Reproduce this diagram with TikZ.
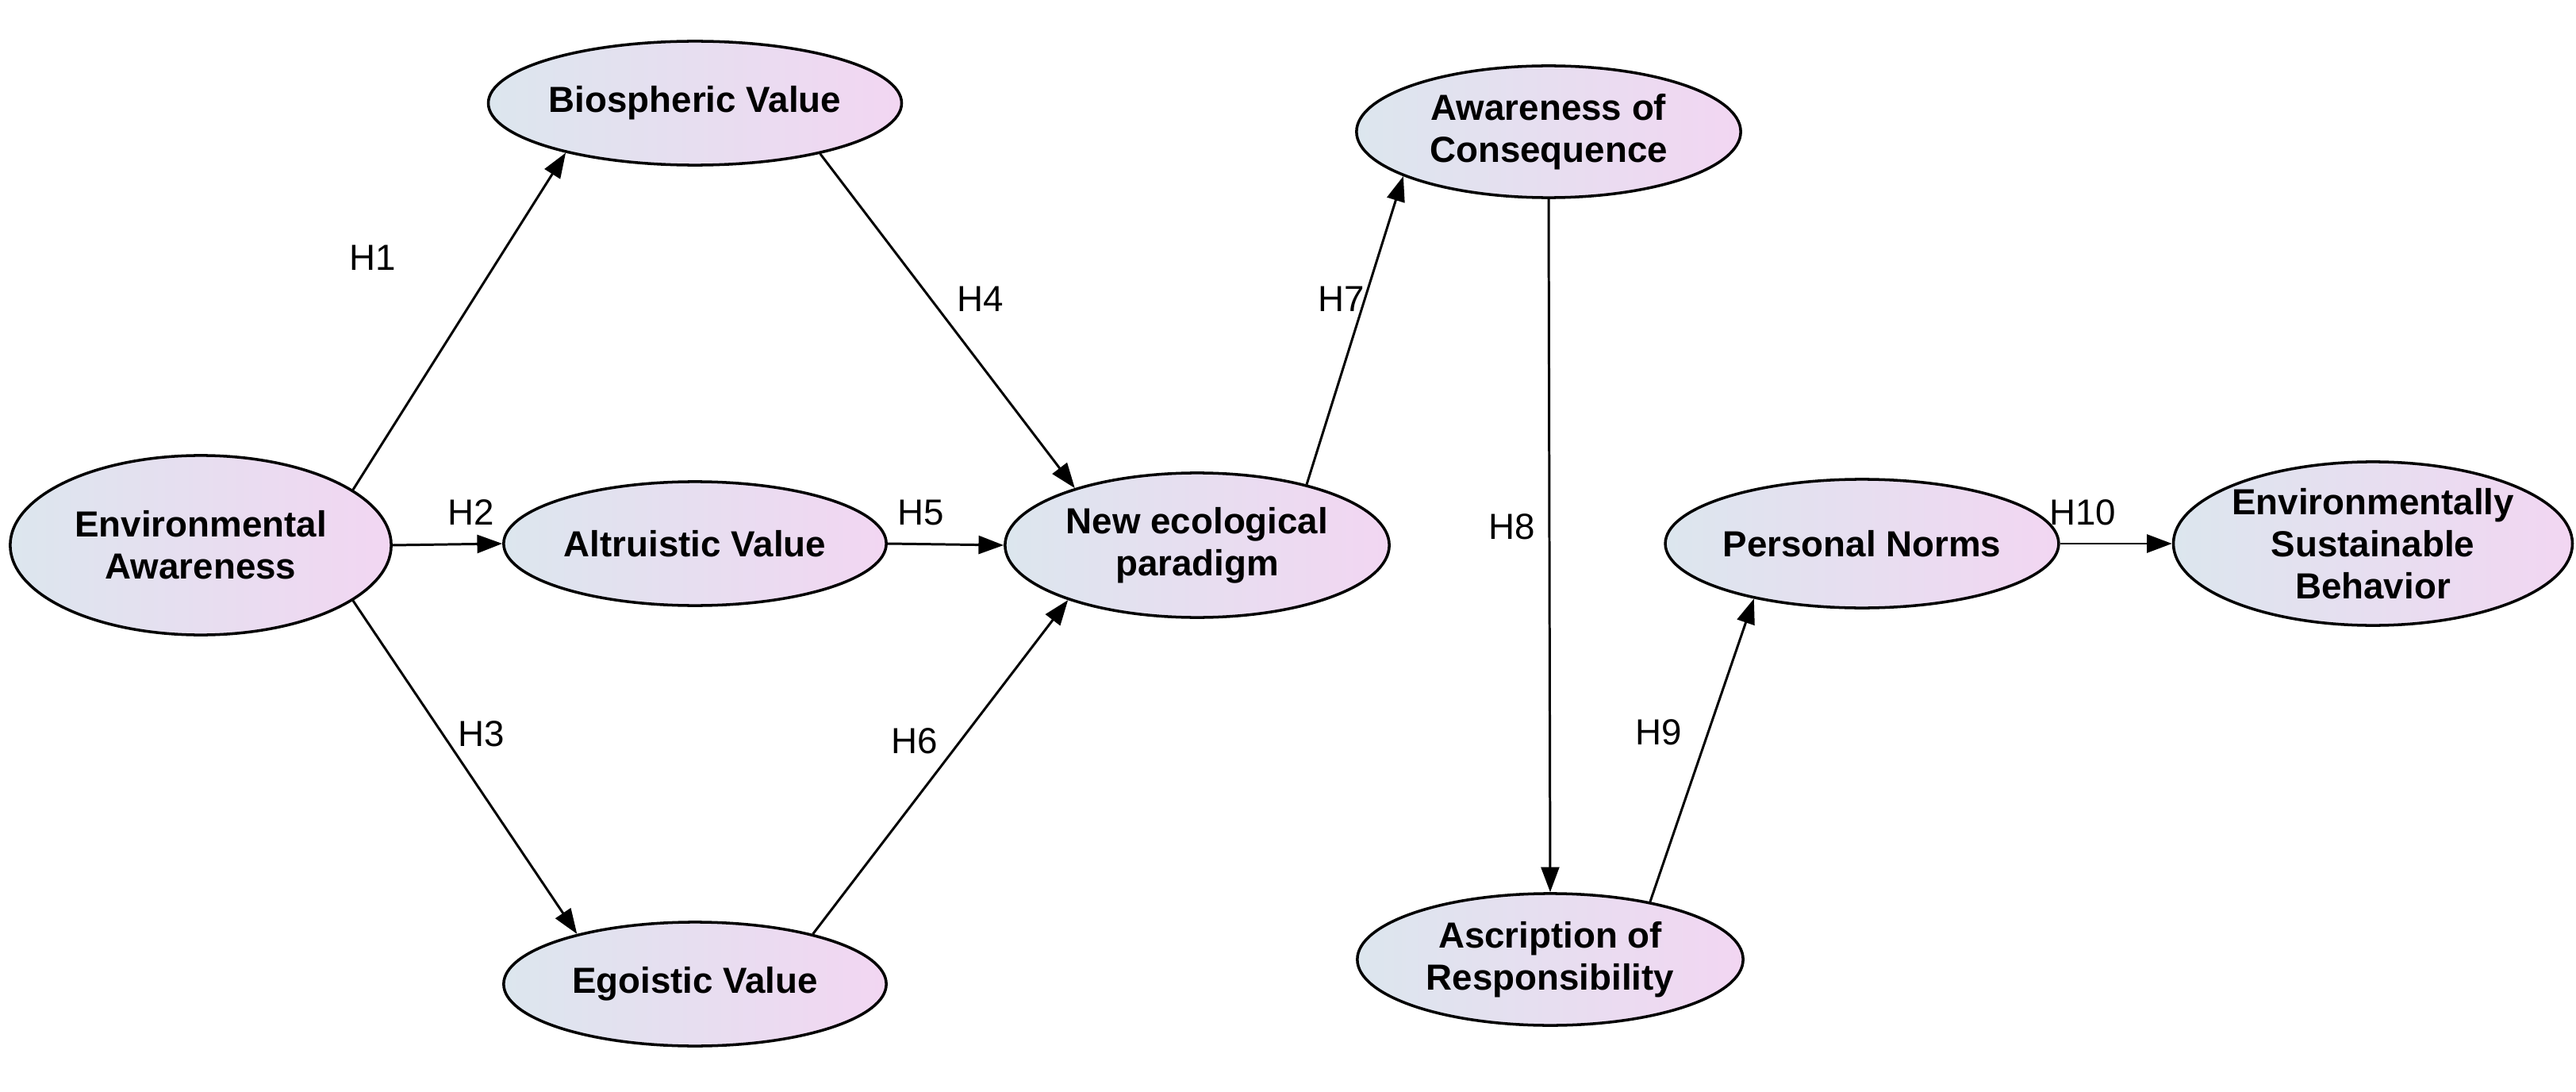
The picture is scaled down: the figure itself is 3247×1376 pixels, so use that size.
\documentclass[tikz,border=0pt]{standalone}
\usepackage{fontspec}
\setmainfont{Liberation Sans}
\usetikzlibrary{shapes.geometric,arrows.meta}
\definecolor{lb}{HTML}{DCE6EE}
\definecolor{lp}{HTML}{F2D6F2}
\begin{document}
\begin{tikzpicture}[x=0.01cm,y=-0.01cm,
  ell/.style={ellipse,draw=black,line width=1pt,left color=lb,right color=lp,inner sep=0pt,
    font=\fontsize{13}{15}\selectfont\bfseries,align=center},
  arr/.style={line width=0.85pt,-{Triangle[length=9pt,width=6.5pt]}},
  lab/.style={font=\fontsize{13}{15}\selectfont}]
\useasboundingbox (0,0) rectangle (3247,1376);
\node[ell,minimum width=4.80cm,minimum height=2.26cm] (EA) at (253,687) {Environmental\\Awareness};
\node[ell,minimum width=4.82cm,minimum height=1.56cm] (BV) at (876,130) {Biospheric Value};
\node[ell,minimum width=4.82cm,minimum height=1.56cm] (AV) at (876,685) {Altruistic Value};
\node[ell,minimum width=4.82cm,minimum height=1.56cm] (EV) at (876,1240) {Egoistic Value};
\node[ell,minimum width=4.84cm,minimum height=1.82cm] (NEP) at (1509,687) {New ecological\\paradigm};
\node[ell,minimum width=4.84cm,minimum height=1.66cm] (AC) at (1952,166) {Awareness of\\Consequence};
\node[ell,minimum width=4.86cm,minimum height=1.66cm] (AR) at (1954,1209) {Ascription of\\Responsibility};
\node[ell,minimum width=4.82cm,minimum height=1.62cm] (PN) at (2347,685) {Personal Norms};
\node[ell,minimum width=4.88cm,minimum height=2.06cm] (ESB) at (2991,685) {Environmentally\\Sustainable\\Behavior};
\draw[arr] (EA.20.6) -- (BV.201.7);
\draw[arr] (EA.east) -- (AV.west);
\draw[arr] (EA.-20.6) -- (EV.157);
\draw[arr] (BV.-22) -- (NEP.155.6);
\draw[arr] (AV.east) -- (NEP.west);
\draw[arr] (EV.23) -- (NEP.203);
\draw[arr] (NEP.29.6) -- (AC.197);
\draw[arr] (AC.south) -- (AR.north);
\draw[arr] (AR.30.5) -- (PN.207);
\draw[arr] (PN.east) -- (ESB.west);
\node[lab] (h1) at (470,325) {H1};
\node[lab] (h2) at (594,646) {H2};
\node[lab] (h3) at (607,925) {H3};
\node[lab] (h4) at (1236,377) {H4};
\node[lab] (h5) at (1161,646) {H5};
\node[lab] (h6) at (1153,934) {H6};
\node[lab] (h7) at (1691,377) {H7};
\node[lab] (h8) at (1906,664) {H8};
\node[lab] (h9) at (2091,923) {H9};
\node[lab] (h10) at (2625,646) {H10};
\end{tikzpicture}
\end{document}
